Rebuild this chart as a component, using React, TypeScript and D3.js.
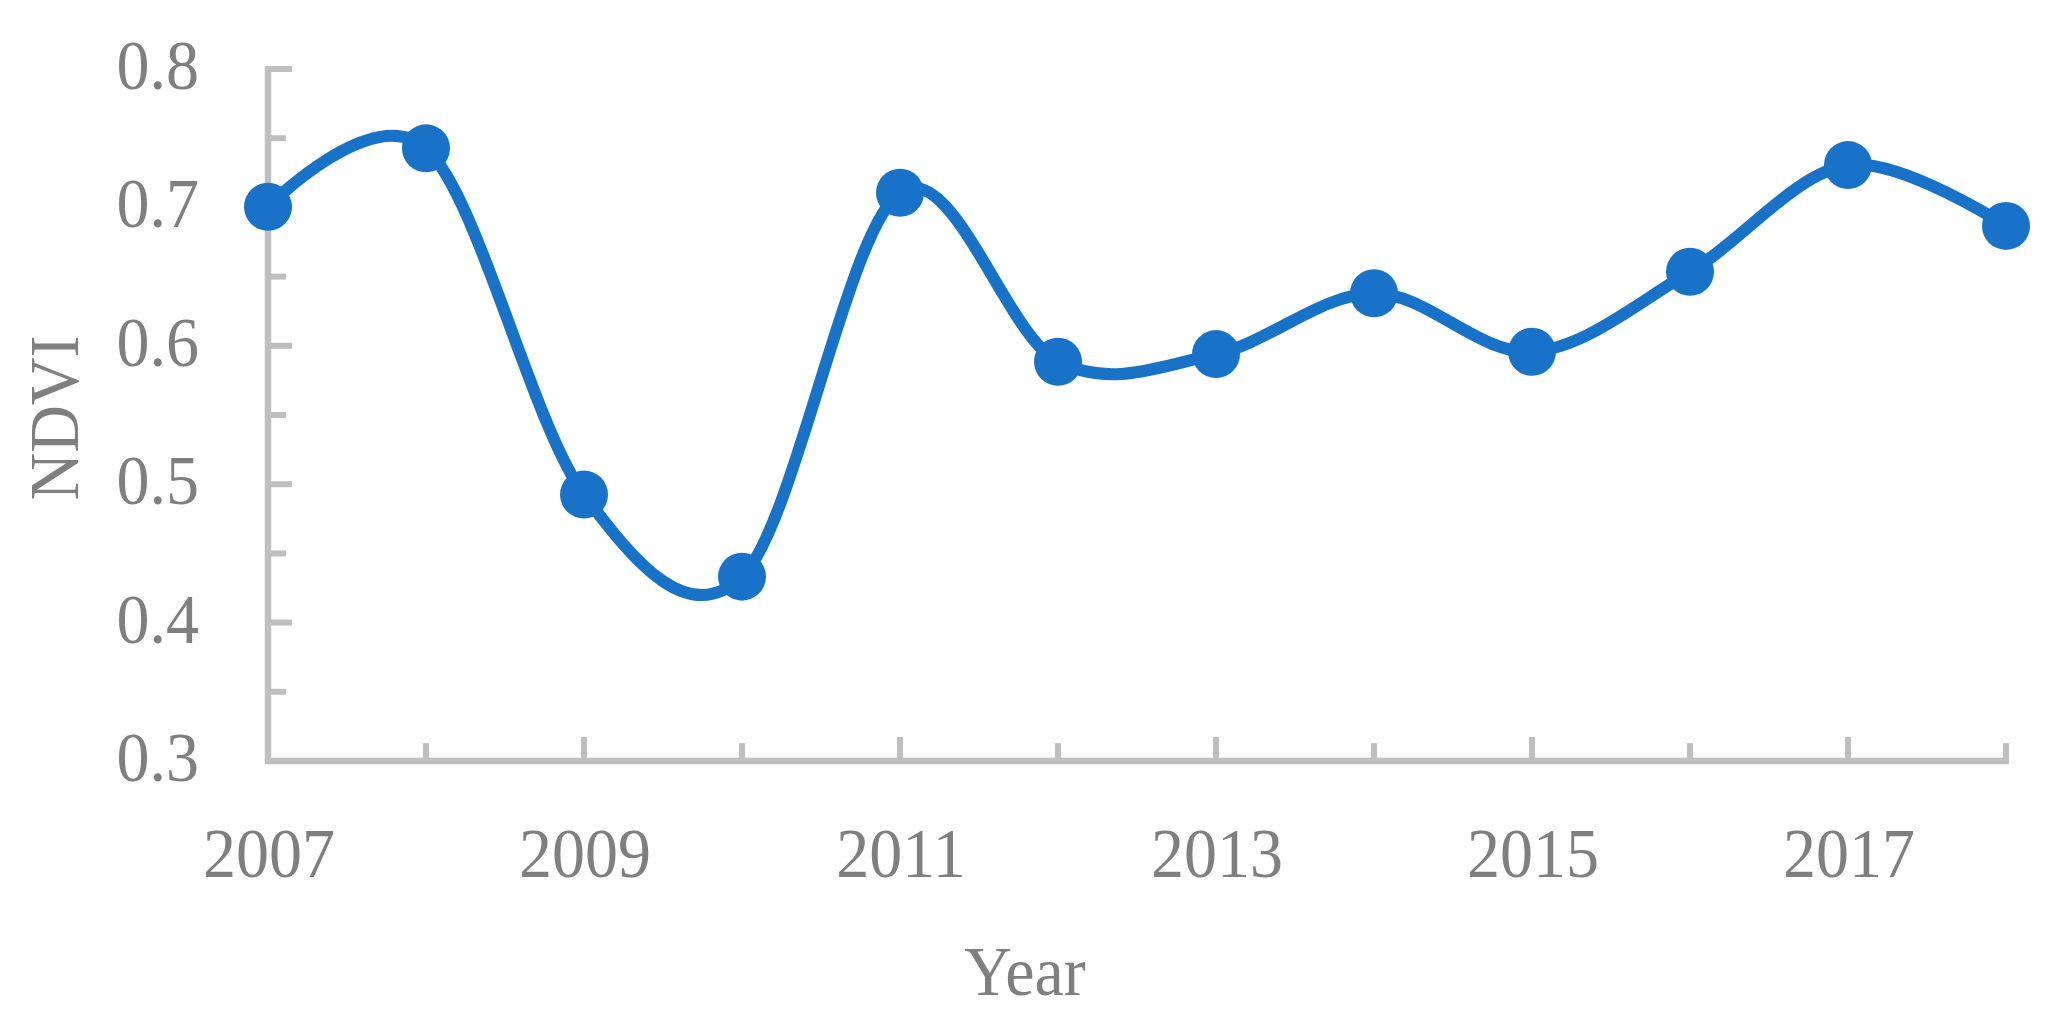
import React from "react";
import * as d3 from "d3";

const years = [2007, 2008, 2009, 2010, 2011, 2012, 2013, 2014, 2015, 2016, 2017, 2018];
const ndvi = [0.7005, 0.7427, 0.4925, 0.4332, 0.7106, 0.5885, 0.594, 0.638, 0.5957, 0.6535, 0.7306, 0.6866];
const yTicks = [0.3, 0.4, 0.5, 0.6, 0.7, 0.8];
const yMinorTicks = [0.35, 0.45, 0.55, 0.65, 0.75];
const xLabelYears = [2007, 2009, 2011, 2013, 2015, 2017];

const W = 2064;
const H = 1031;
const AXIS = "#bfbfbf";
const TEXT = "#7f7f7f";
const LINE = "#1873c8";
const textStyle = { fontFamily: '"Liberation Serif"', fontSize: 66 };
const SY = 1.05;

export default function App() {
  const x = d3.scaleLinear().domain([2007, 2018]).range([268, 2006]);
  const y = d3.scaleLinear().domain([0.3, 0.8]).range([761, 69]);
  const line = d3
    .line<number>()
    .x((_, i) => x(years[i]))
    .y((d) => y(d))
    .curve(d3.curveCatmullRom.alpha(0));
  const path = line(ndvi) || "";
  const x0 = x(2007);
  const y0 = y(0.3);

  return (
    <svg
      width={W}
      height={H}
      style={{ position: "absolute", left: 0, top: 0, display: "block", background: "#fff" }}
    >
      {/* axes */}
      <line x1={x0} x2={x0} y1={y(0.8) - 3} y2={y0 + 3} stroke={AXIS} strokeWidth={6.5} />
      <line x1={x0 - 3} x2={x(2018) + 3} y1={y0} y2={y0} stroke={AXIS} strokeWidth={6.5} />
      {yTicks.map((t) => (
        <line key={"ym" + t} x1={x0} x2={x0 + 24} y1={y(t)} y2={y(t)} stroke={AXIS} strokeWidth={6} />
      ))}
      {yMinorTicks.map((t) => (
        <line key={"yn" + t} x1={x0} x2={x0 + 18} y1={y(t)} y2={y(t)} stroke={AXIS} strokeWidth={6} />
      ))}
      {years.map((yr) => {
        const major = xLabelYears.includes(yr);
        return (
          <line
            key={"xt" + yr}
            x1={x(yr)}
            x2={x(yr)}
            y1={y0}
            y2={y0 - (major ? 24 : 18)}
            stroke={AXIS}
            strokeWidth={6}
          />
        );
      })}
      {/* tick labels */}
      {yTicks.map((t) => (
        <text
          key={"yl" + t}
          transform={`translate(199, ${y(t) + 20}) scale(1, ${SY})`}
          textAnchor="end"
          fill={TEXT}
          style={textStyle}
        >
          {t.toFixed(1)}
        </text>
      ))}
      {xLabelYears.map((yr) => (
        <text
          key={"xl" + yr}
          transform={`translate(${x(yr) + 1}, 877) scale(1, ${SY})`}
          textAnchor="middle"
          fill={TEXT}
          style={textStyle}
        >
          {yr}
        </text>
      ))}
      {/* axis titles */}
      <text
        transform={`translate(1025, 995) scale(1, ${SY})`}
        textAnchor="middle"
        fill={TEXT}
        style={textStyle}
      >
        Year
      </text>
      <text
        transform={`translate(78, 418) rotate(-90) scale(1, ${SY})`}
        textAnchor="middle"
        fill={TEXT}
        style={textStyle}
      >
        NDVI
      </text>
      {/* series */}
      <path d={path} fill="none" stroke={LINE} strokeWidth={12} strokeLinejoin="round" strokeLinecap="round" />
      {ndvi.map((v, i) => (
        <circle key={"pt" + i} cx={x(years[i])} cy={y(v)} r={24} fill={LINE} />
      ))}
    </svg>
  );
}
